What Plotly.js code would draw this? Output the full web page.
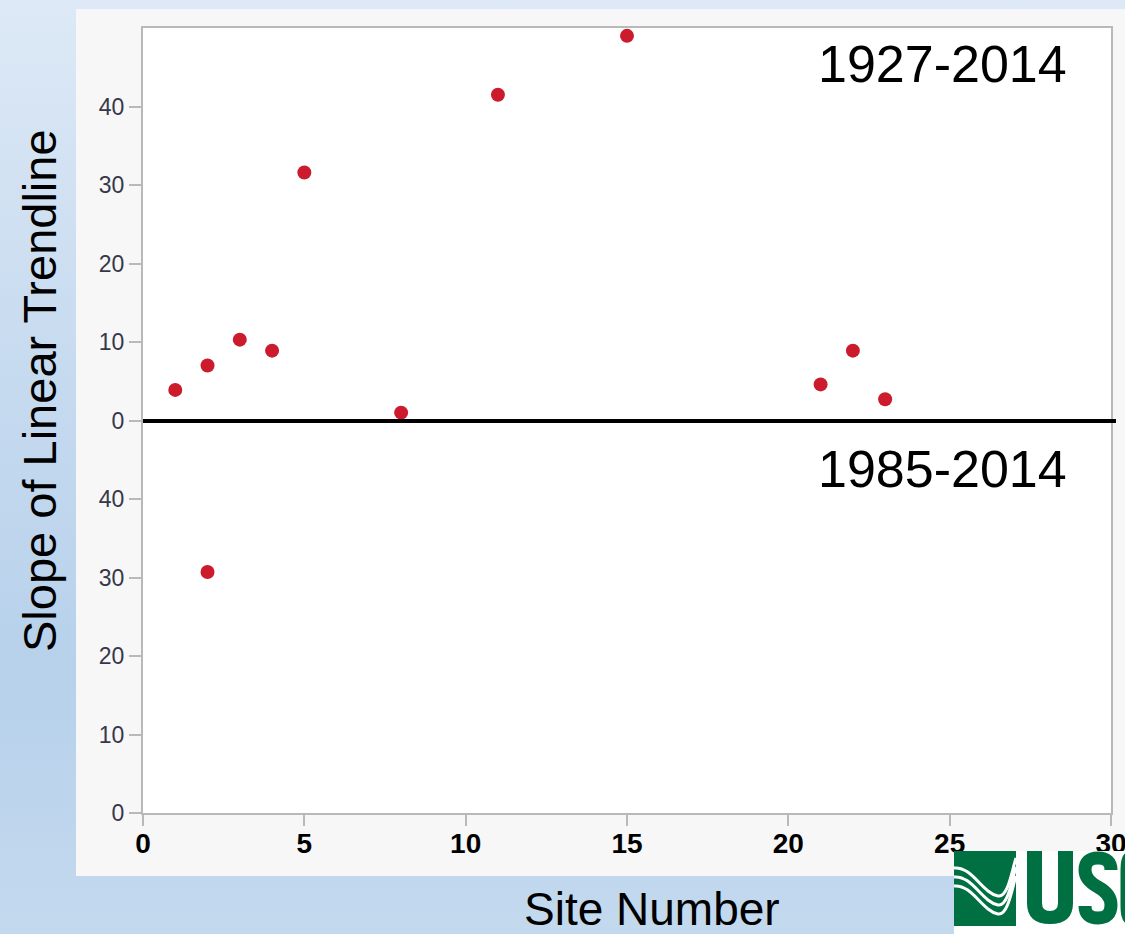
<!DOCTYPE html>
<html>
<head>
<meta charset="utf-8">
<script src="https://cdn.plot.ly/plotly-3.0.1.min.js"></script>
<style>
  html, body { margin:0; padding:0; width:1125px; height:934px; overflow:hidden; }
  body { background: linear-gradient(to bottom, #dde9f6 0%, #c9dcf0 35%, #b7d1eb 72%, #c3d9ee 100%); }
  #chart { width:1125px; height:934px; }
</style>
</head>
<body>
<div id="chart"></div>
<script>
// ---- data ----
const sites1927 = [1, 2, 3, 4, 5, 8, 11, 15, 21, 22, 23];
const slope1927 = [3.9, 7.0, 10.3, 8.9, 31.6, 1.0, 41.5, 49.0, 4.6, 8.9, 2.7];
const sites1985 = [2];
const slope1985 = [30.7];
const label1927 = "1927-2014";
const label1985 = "1985-2014";
const xTicks = [0, 5, 10, 15, 20, 25, 30];
const yTickVals = [0, 10, 20, 30, 40, 50, 60, 70, 80, 90];
const yTickText = ["0", "10", "20", "30", "40", "0", "10", "20", "30", "40"];
const panelOffset = 50; // upper panel (1927-2014) is stacked above the lower panel (1985-2014)

// ---- geometry helpers (page px -> paper) ----
const W = 1125, H = 934;
const mL = 143, mR = 14, mT = 28, mB = 121;
const pw = W - mL - mR, ph = H - mT - mB;
const px = x => (x - mL) / pw;
const py = y => (H - mB - y) / ph;
// build an SVG path in paper coords from page-pixel commands
function P(cmds) {
  return cmds.map(c => {
    const k = c[0];
    if (k === 'Z') return 'Z';
    const nums = [];
    for (let i = 1; i < c.length; i += 2) nums.push(px(c[i]) + ',' + py(c[i + 1]));
    return k + nums.join(' ');
  }).join(' ');
}

const topVals = slope1927.map(v => v + panelOffset);

const dotColor = '#cd1b2e';
const traces = [
  { x: sites1927, y: topVals, type: 'scatter', mode: 'markers', name: label1927,
    marker: { size: 14, color: dotColor }, cliponaxis: false, hoverinfo: 'skip' },
  { x: sites1985, y: slope1985, type: 'scatter', mode: 'markers', name: label1985,
    marker: { size: 14, color: dotColor }, cliponaxis: false, hoverinfo: 'skip' }
];

function wavePath(dy) {
  return P([['M', 954, 868 + dy], ['C', 972, 866 + dy, 982, 893 + dy, 998, 896 + dy],
            ['C', 1008, 898 + dy, 1012, 870 + dy, 1016, 858 + dy]]);
}

const green = '#006f41';
const gray = '#b9b9b9';
const shapes = [
  { type: 'rect', xref: 'paper', yref: 'paper', layer: 'below',
    x0: px(76), x1: px(1125), y0: py(876), y1: py(9), fillcolor: '#f7f7f7', line: { width: 0 } },
  { type: 'rect', xref: 'paper', yref: 'paper', layer: 'below',
    x0: 0, x1: 1, y0: 0, y1: 1, fillcolor: '#ffffff', line: { width: 0 } },
  { type: 'line', xref: 'paper', yref: 'paper', layer: 'above',
    x0: 0, x1: px(1116), y0: py(421), y1: py(421), line: { color: '#000000', width: 4 } },
  // USGS logo
  { type: 'rect', xref: 'paper', yref: 'paper', layer: 'above',
    x0: px(954), x1: px(1130), y0: py(940), y1: py(851), fillcolor: '#ffffff', line: { width: 0 } },
  { type: 'rect', xref: 'paper', yref: 'paper', layer: 'above',
    x0: px(954), x1: px(1016), y0: py(926), y1: py(851), fillcolor: green, line: { width: 0 } },
  { type: 'path', xref: 'paper', yref: 'paper', layer: 'above', path: wavePath(0), line: { color: '#ffffff', width: 3 } },
  { type: 'path', xref: 'paper', yref: 'paper', layer: 'above', path: wavePath(9), line: { color: '#ffffff', width: 3 } },
  { type: 'path', xref: 'paper', yref: 'paper', layer: 'above', path: wavePath(18), line: { color: '#ffffff', width: 3 } },
  // letter U
  { type: 'path', xref: 'paper', yref: 'paper', layer: 'above', fillcolor: green, line: { width: 0 },
    path: P([['M', 1027, 851], ['L', 1042, 851], ['L', 1042, 903], ['Q', 1042, 911, 1050, 911], ['Q', 1058, 911, 1058, 903],
             ['L', 1058, 851], ['L', 1073, 851], ['L', 1073, 903], ['Q', 1073, 924, 1050, 924], ['Q', 1027, 924, 1027, 903], ['Z']]) },
  // letter S
  { type: 'path', xref: 'paper', yref: 'paper', layer: 'above', line: { color: green, width: 13 },
    path: P([['M', 1111, 870], ['Q', 1111, 858, 1098, 858], ['Q', 1085, 858, 1085, 870], ['Q', 1085, 880, 1098, 887],
             ['Q', 1111, 894, 1111, 905], ['Q', 1111, 918, 1098, 918], ['Q', 1085, 918, 1085, 906]]) },
  // start of letter G
  { type: 'path', xref: 'paper', yref: 'paper', layer: 'above', line: { color: green, width: 13 },
    path: P([['M', 1130, 858], ['Q', 1127, 858, 1127, 872], ['L', 1127, 904], ['Q', 1127, 918, 1130, 918]]) }
];

const titleFont = { family: 'Liberation Sans, Arial, sans-serif', color: '#000000' };
const annotations = [
  { xref: 'paper', yref: 'paper', x: px(942), y: py(64), text: label1927, showarrow: false,
    xanchor: 'center', yanchor: 'middle', font: Object.assign({ size: 52 }, titleFont) },
  { xref: 'paper', yref: 'paper', x: px(942), y: py(469), text: label1985, showarrow: false,
    xanchor: 'center', yanchor: 'middle', font: Object.assign({ size: 52 }, titleFont) },
  { xref: 'paper', yref: 'paper', x: px(39), y: py(391), text: 'Slope of Linear Trendline', showarrow: false,
    textangle: -90, xanchor: 'center', yanchor: 'middle', font: Object.assign({ size: 47 }, titleFont) },
  { xref: 'paper', yref: 'paper', x: px(652), y: py(909), text: 'Site Number', showarrow: false,
    xanchor: 'center', yanchor: 'middle', font: Object.assign({ size: 46 }, titleFont) }
];

const layout = {
  width: W, height: H,
  margin: { l: mL, r: mR, t: mT, b: mB, pad: 0 },
  paper_bgcolor: 'rgba(0,0,0,0)',
  plot_bgcolor: 'rgba(0,0,0,0)',
  showlegend: false,
  xaxis: {
    range: [0, 30], tickvals: xTicks, ticktext: xTicks.map(String),
    showgrid: false, zeroline: false,
    showline: true, linecolor: gray, linewidth: 2, mirror: true,
    ticks: 'outside', ticklen: 11, tickwidth: 2, tickcolor: gray,
    ticklabelstandoff: -7, ticklabeloverflow: 'allow',
    tickfont: { family: 'Liberation Sans, Arial, sans-serif', size: 28, color: '#000000', weight: 'bold' }
  },
  yaxis: {
    range: [0, 100], tickvals: yTickVals, ticktext: yTickText,
    showgrid: false, zeroline: false,
    showline: true, linecolor: gray, linewidth: 2, mirror: true,
    ticks: 'outside', ticklen: 12, tickwidth: 2, tickcolor: gray,
    tickfont: { family: 'Liberation Sans, Arial, sans-serif', size: 23, color: '#36384a' }
  },
  shapes: shapes,
  annotations: annotations
};

Plotly.newPlot('chart', traces, layout, { staticPlot: true, displayModeBar: false });
</script>
</body>
</html>
